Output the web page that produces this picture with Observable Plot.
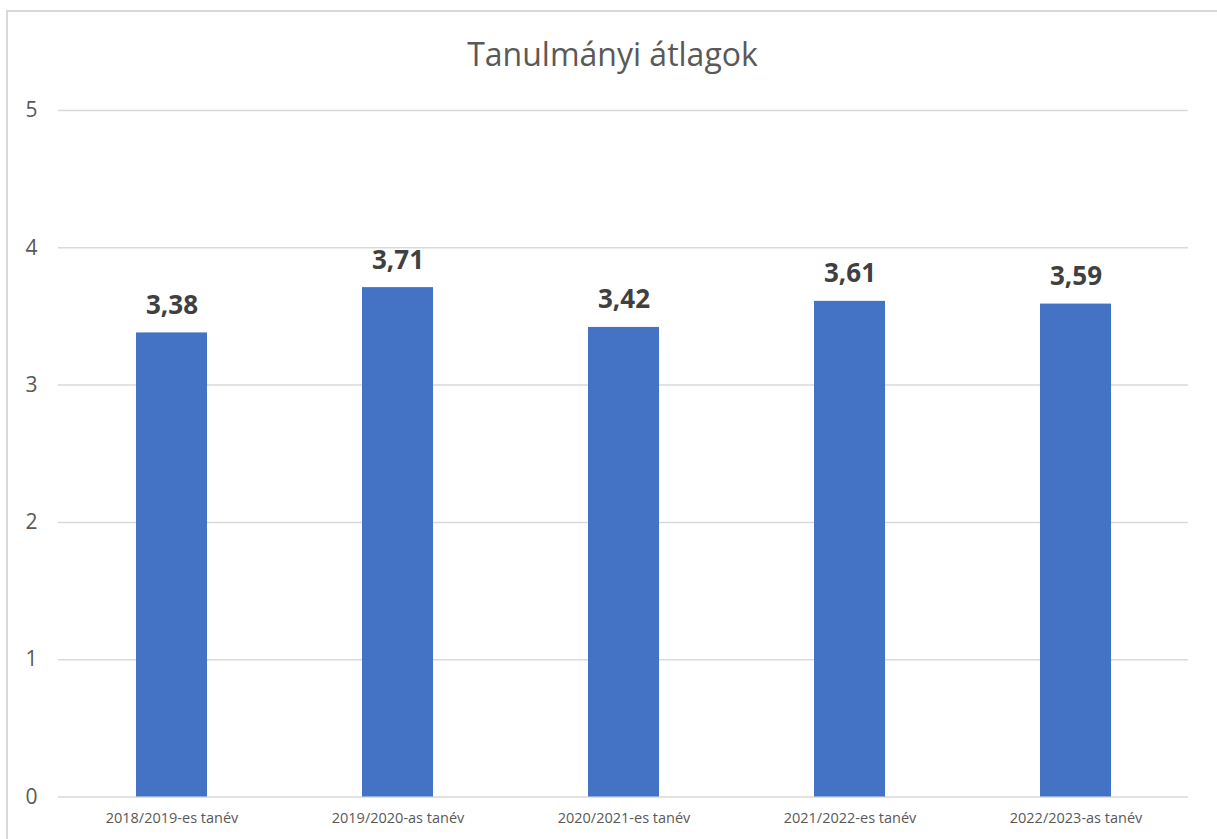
<!DOCTYPE html>
<html>
<head>
<meta charset="utf-8">
<script src="https://cdn.jsdelivr.net/npm/d3@7"></script>
<script src="https://cdn.jsdelivr.net/npm/@observablehq/plot@0.6"></script>
<style>
  html, body { margin: 0; padding: 0; background: #fff; overflow: hidden; }
  body { width: 1217px; height: 839px; position: relative; font-family: "Open Sans", "Noto Sans", sans-serif; }
  #frame { position: absolute; left: 6px; top: 10px; width: 1260px; height: 900px;
           border-left: 2px solid #d9d9d9; border-top: 2px solid #d9d9d9; }
  #title { height: 32px; line-height: 32px; margin: 26px 0 17px 0; width: 1209px;
           text-align: center; font-size: 32px; color: #595959; white-space: nowrap; }
  #chart svg { display: block; }
</style>
</head>
<body>
<div id="frame">
  <div id="title">Tanulmányi átlagok</div>
  <div id="chart"></div>
</div>
<script>
const categories = ["2018/2019-es tanév", "2019/2020-as tanév", "2020/2021-es tanév", "2021/2022-es tanév", "2022/2023-as tanév"];
const values = [3.38, 3.71, 3.42, 3.61, 3.59];
const yTicks = [0, 1, 2, 3, 4, 5];

const data = categories.map((c, i) => ({category: c, value: values[i]}));
const fmt = v => v.toFixed(2).replace(".", ",");

const chart = Plot.plot({
  width: 1209,
  height: 752,
  marginLeft: 50,
  marginRight: 29,
  marginTop: 23,
  marginBottom: 42.5,
  style: {fontFamily: "'Open Sans', 'Noto Sans', sans-serif", background: "transparent"},
  x: {domain: categories, paddingInner: 0.688, paddingOuter: 0.344, label: null},
  y: {domain: [0, 5], label: null},
  marks: [
    Plot.gridY(yTicks, {stroke: "#d9d9d9", strokeOpacity: 1, strokeWidth: 1.5}),
    Plot.barY(data, {x: "category", y: "value", fill: "#4472c4"}),
    Plot.text(data, {x: "category", y: "value", text: d => fmt(d.value), lineAnchor: "bottom", dy: -19,
      fontSize: 26, fontWeight: "bold", fill: "#404040"}),
    Plot.axisY(yTicks, {tickSize: 0, tickPadding: 21, fontSize: 21, color: "#595959", label: null, tickFormat: d => String(d)}),
    Plot.axisX({tickSize: 0, tickPadding: 16, fontSize: 14.5, color: "#595959", label: null})
  ]
});
document.getElementById("chart").appendChild(chart);
</script>
</body>
</html>
